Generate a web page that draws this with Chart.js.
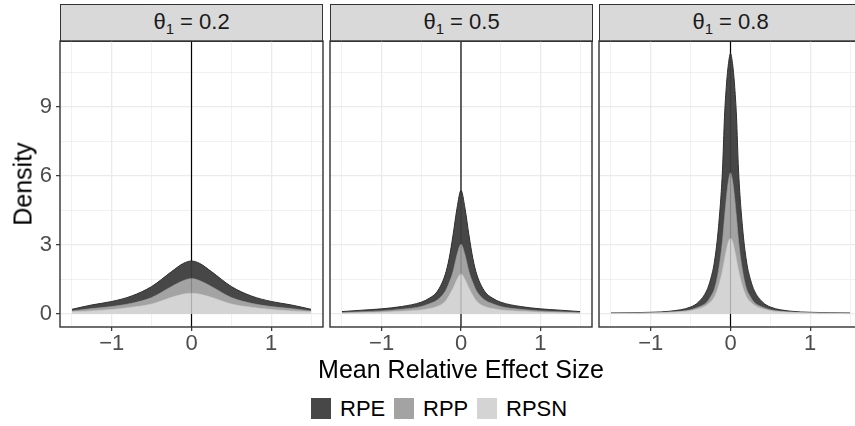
<!DOCTYPE html>
<html><head><meta charset="utf-8">
<script src="https://cdn.jsdelivr.net/npm/chart.js@4.4.1/dist/chart.umd.min.js"></script>
<style>
html,body{margin:0;padding:0;width:855px;height:426px;overflow:hidden;background:#fff;font-family:"Liberation Sans",Arial,sans-serif;}
canvas{position:absolute;}
.strip{position:absolute;top:4px;height:38px;background:#d9d9d9;border:1.4px solid #333;box-sizing:border-box;text-align:center;font-size:22px;line-height:34px;color:#1a1a1a;white-space:nowrap;}
.sub{font-size:15px;position:relative;top:5px;}
.xt{position:absolute;left:0;width:922px;top:357px;text-align:center;font-size:25px;line-height:25px;color:#000;}
.yt{position:absolute;left:23px;top:184px;font-size:25px;line-height:25px;color:#000;transform:translate(-50%,-50%) rotate(-90deg);white-space:nowrap;}
.key{position:absolute;top:398px;width:20px;height:21px;}
.lab{position:absolute;top:397px;font-size:22px;line-height:23px;color:#000;}
</style></head>
<body>
<div class="strip" style="left:60px;width:263px;">θ<span class="sub">1</span> = 0.2</div>
<div class="strip" style="left:330px;width:263px;">θ<span class="sub">1</span> = 0.5</div>
<div class="strip" style="left:599px;width:263px;">θ<span class="sub">1</span> = 0.8</div>
<canvas id="c1" width="325" height="317" style="left:0px;top:40px;"></canvas>
<canvas id="c2" width="266" height="317" style="left:328px;top:40px;"></canvas>
<canvas id="c3" width="267" height="317" style="left:597px;top:40px;"></canvas>
<div class="yt">Density</div>
<div class="xt">Mean Relative Effect Size</div>
<div class="key" style="left:311px;background:#474747;"></div><div class="lab" style="left:340px;">RPE</div>
<div class="key" style="left:394px;background:#a3a3a3;"></div><div class="lab" style="left:423px;">RPP</div>
<div class="key" style="left:477px;background:#d4d4d4;"></div><div class="lab" style="left:506px;">RPSN</div>
<script>
// ---- data ----
const seriesNames = ["RPE", "RPP", "RPSN"];
const panelLabels = ["0.2", "0.5", "0.8"];
const xTickVals = [-1.5, -1, -0.5, 0, 0.5, 1, 1.5];
const yTickVals = [0, 1.5, 3, 4.5, 6, 7.5, 9, 10.5];

const p1X    = [-1.5, -1.25, -1, -0.75, -0.5, -0.25, -0.1, 0, 0.1, 0.25, 0.5, 0.75, 1, 1.25, 1.5];
const p1RPE  = [0.2, 0.39, 0.54, 0.78, 1.19, 1.84, 2.2, 2.3, 2.2, 1.84, 1.19, 0.78, 0.54, 0.39, 0.2];
const p1RPP  = [0.13, 0.23, 0.32, 0.46, 0.71, 1.19, 1.45, 1.54, 1.45, 1.19, 0.71, 0.46, 0.32, 0.23, 0.13];
const p1RPSN = [0.09, 0.13, 0.19, 0.29, 0.43, 0.72, 0.86, 0.9, 0.86, 0.72, 0.43, 0.29, 0.19, 0.13, 0.09];

const p2X    = [-1.5, -1.25, -1, -0.75, -0.5, -0.4, -0.3, -0.2, -0.15, -0.1, -0.05, 0, 0.05, 0.1, 0.15, 0.2, 0.3, 0.4, 0.5, 0.75, 1, 1.25, 1.5];
const p2RPE  = [0.1, 0.16, 0.22, 0.32, 0.51, 0.68, 0.97, 1.7, 2.4, 3.43, 4.6, 5.37, 4.6, 3.43, 2.4, 1.7, 0.97, 0.68, 0.51, 0.32, 0.22, 0.16, 0.1];
const p2RPP  = [0.06, 0.09, 0.13, 0.2, 0.32, 0.44, 0.6, 0.97, 1.35, 1.84, 2.57, 3.03, 2.57, 1.84, 1.35, 0.97, 0.6, 0.44, 0.32, 0.2, 0.13, 0.09, 0.06];
const p2RPSN = [0.03, 0.05, 0.07, 0.11, 0.17, 0.23, 0.32, 0.54, 0.8, 1.12, 1.5, 1.74, 1.5, 1.12, 0.8, 0.54, 0.32, 0.23, 0.17, 0.11, 0.07, 0.05, 0.03];

const p3X    = [-1.5, -1.25, -1, -0.75, -0.5, -0.4, -0.3, -0.25, -0.2, -0.15, -0.1, -0.075, -0.05, -0.025, 0, 0.025, 0.05, 0.075, 0.1, 0.15, 0.2, 0.25, 0.3, 0.4, 0.5, 0.75, 1, 1.25, 1.5];
const p3RPE  = [0.04, 0.05, 0.07, 0.12, 0.3, 0.52, 1.0, 1.5, 2.3, 3.8, 6.3, 8.6, 10.0, 10.9, 11.33, 10.9, 10.0, 8.6, 6.3, 3.8, 2.3, 1.5, 1.0, 0.52, 0.3, 0.12, 0.07, 0.05, 0.04];
const p3RPP  = [0.025, 0.035, 0.05, 0.08, 0.18, 0.3, 0.5, 0.75, 1.1, 1.9, 3.2, 4.2, 5.1, 5.8, 6.14, 5.8, 5.1, 4.2, 3.2, 1.9, 1.1, 0.75, 0.5, 0.3, 0.18, 0.08, 0.05, 0.035, 0.025];
const p3RPSN = [0.02, 0.03, 0.04, 0.07, 0.14, 0.22, 0.38, 0.52, 0.75, 1.2, 1.9, 2.35, 2.8, 3.15, 3.29, 3.15, 2.8, 2.35, 1.9, 1.2, 0.75, 0.52, 0.38, 0.22, 0.14, 0.07, 0.04, 0.03, 0.02];

// ---- styling ----
const FONT = "'Liberation Sans', Arial, sans-serif";
const fills = ["#474747", "#a3a3a3", "#d4d4d4"];
const edges = ["#2e2e2e", "#9c9c9c", "#cecece"];
const edgeW = [1, 0.6, 0.6];

const panelPlugin = {
  id: 'panelDeco',
  beforeDatasetsDraw(chart) {
    const {ctx, chartArea: a, scales: {x}} = chart;
    const px = x.getPixelForValue(0);
    ctx.save();
    ctx.strokeStyle = '#000'; ctx.lineWidth = 1.2;
    ctx.beginPath(); ctx.moveTo(px, a.top); ctx.lineTo(px, a.bottom); ctx.stroke();
    ctx.restore();
  },
  afterDatasetsDraw(chart) {
    const {ctx, chartArea: a, scales: {x, y}} = chart;
    const px = x.getPixelForValue(0);
    const peak = Math.max(...chart.data.datasets[0].data.map(d => d.y));
    ctx.save();
    ctx.strokeStyle = 'rgba(0,0,0,0.18)'; ctx.lineWidth = 1.2;
    ctx.beginPath(); ctx.moveTo(px, y.getPixelForValue(0)); ctx.lineTo(px, y.getPixelForValue(peak)); ctx.stroke();
    ctx.strokeStyle = '#333'; ctx.lineWidth = 1.4;
    ctx.strokeRect(a.left, a.top, a.right - a.left, a.bottom - a.top);
    ctx.restore();
  }
};

function fmt(v) { return v < 0 ? '\u2212' + Math.abs(v) : String(v); }

function makePanel(id, xs, series, showY, padLeft) {
  const datasets = series.map((vals, i) => ({
    label: seriesNames[i],
    data: xs.map((xv, j) => ({x: xv, y: vals[j]})),
    backgroundColor: fills[i],
    borderColor: edges[i],
    borderWidth: edgeW[i],
    fill: 'origin',
    pointRadius: 0,
    cubicInterpolationMode: 'monotone',
    order: 3 - i
  }));
  new Chart(document.getElementById(id), {
    type: 'line',
    data: {datasets},
    options: {
      responsive: false, animation: false,
      layout: {padding: {left: padLeft, right: 2, top: 1, bottom: 0}},
      plugins: {legend: {display: false}, tooltip: {enabled: false}},
      scales: {
        x: {
          type: 'linear', min: -1.65, max: 1.65,
          afterBuildTicks: s => { s.ticks = xTickVals.map(v => ({value: v})); },
          afterFit: s => { s.height = 30; s.paddingLeft = 0; s.paddingRight = 0; },
          border: {display: false},
          grid: {
            color: '#ebebeb',
            lineWidth: c => Number.isInteger(c.tick.value) ? 1.3 : 0.7,
            tickColor: c => Number.isInteger(c.tick.value) ? '#333' : 'rgba(0,0,0,0)',
            tickWidth: 1.2, tickLength: 4, drawTicks: true
          },
          ticks: {
            callback: v => Number.isInteger(v) ? fmt(v) : '',
            color: '#4d4d4d', font: {size: 22, family: FONT}, padding: 0,
            autoSkip: false, maxRotation: 0
          }
        },
        y: {
          type: 'linear', min: -0.57, max: 11.87,
          afterBuildTicks: s => { s.ticks = yTickVals.map(v => ({value: v})); },
          afterFit: s => { s.width = showY ? 60 : 0; s.paddingTop = 0; s.paddingBottom = 0; },
          border: {display: false},
          grid: {
            color: '#ebebeb',
            lineWidth: c => (c.tick.value % 3 === 0) ? 1.3 : 0.7,
            tickColor: c => (showY && c.tick.value % 3 === 0) ? '#333' : 'rgba(0,0,0,0)',
            tickWidth: 1.2, tickLength: 4, drawTicks: showY
          },
          ticks: {
            display: showY,
            callback: v => (v % 3 === 0) ? fmt(v) : '',
            color: '#4d4d4d', font: {size: 22, family: FONT}, padding: 4,
            autoSkip: false
          }
        }
      }
    },
    plugins: [panelPlugin]
  });
}

makePanel('c1', p1X, [p1RPE, p1RPP, p1RPSN], true, 0);
makePanel('c2', p2X, [p2RPE, p2RPP, p2RPSN], false, 2);
makePanel('c3', p3X, [p3RPE, p3RPP, p3RPSN], false, 2);
</script>
</body></html>
